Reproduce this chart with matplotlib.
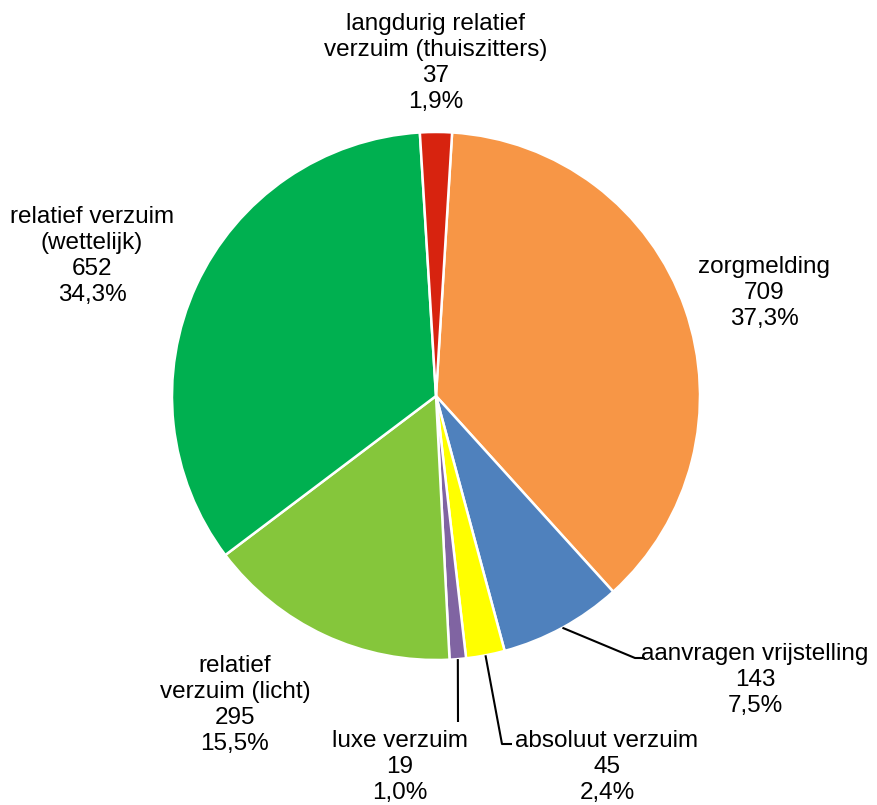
import matplotlib
matplotlib.use("Agg")
import matplotlib.pyplot as plt
import numpy as np

# data
categories = ["zorgmelding", "aanvragen vrijstelling", "absoluut verzuim", "luxe verzuim",
              "relatief\nverzuim (licht)", "relatief verzuim\n(wettelijk)",
              "langdurig relatief\nverzuim (thuiszitters)"]
counts = [709, 143, 45, 19, 295, 652, 37]
percents = ["37,3%", "7,5%", "2,4%", "1,0%", "15,5%", "34,3%", "1,9%"]
colors = ["#F79646", "#4F81BD", "#FFFF00", "#8064A2", "#85C63B", "#00B050", "#D7230F"]

plt.rcParams['font.family'] = ['Liberation Sans', 'DejaVu Sans']

W, H = 878, 805
cx, cy, R = 436, 396, 264

def px(x, y):
    # pixel position -> data coords (pie radius = 1)
    return (x - cx) / R, (cy - y) / R

fig = plt.figure(figsize=(W / 100, H / 100), dpi=100)
ax = fig.add_axes([0, 0, 1, 1])

start = 86.5
wedges, _ = ax.pie(counts, colors=colors, startangle=start, counterclock=False,
                   radius=1, center=(0, 0),
                   wedgeprops=dict(edgecolor="white", linewidth=1.8))

# pie() resets the limits, so set them afterwards
ax.set_xlim(-cx / R, (W - cx) / R)
ax.set_ylim(-(H - cy) / R, cy / R)
ax.set_aspect("equal")
ax.axis("off")

# label centres in pixels
label_pos = [(764, 293), (755, 680), (607, 767), (400, 767), (235, 705), (92, 256), (436, 63)]
# elbow points for leader lines (None = no leader)
elbows = [None, [(635, 658), (645, 658)], [(502, 744), (512, 744)], [(458, 722)],
          None, None, None]

total = sum(counts)
cum = 0
for i, c in enumerate(counts):
    mid = start - 360 * (cum + c / 2) / total
    cum += c
    lx, ly = px(*label_pos[i])
    ax.text(lx, ly, f"{categories[i]}\n{c}\n{percents[i]}", ha="center", va="center",
            multialignment="center", fontsize=17.5, linespacing=1.22, color="black")
    if elbows[i] is not None:
        ax_ = np.cos(np.radians(mid))
        ay_ = np.sin(np.radians(mid))
        pts = [(ax_, ay_)] + [px(*p) for p in elbows[i]]
        xs, ys = zip(*pts)
        ax.plot(xs, ys, color="black", lw=1.5, solid_capstyle="butt")

fig.savefig("out.png", dpi=100)
